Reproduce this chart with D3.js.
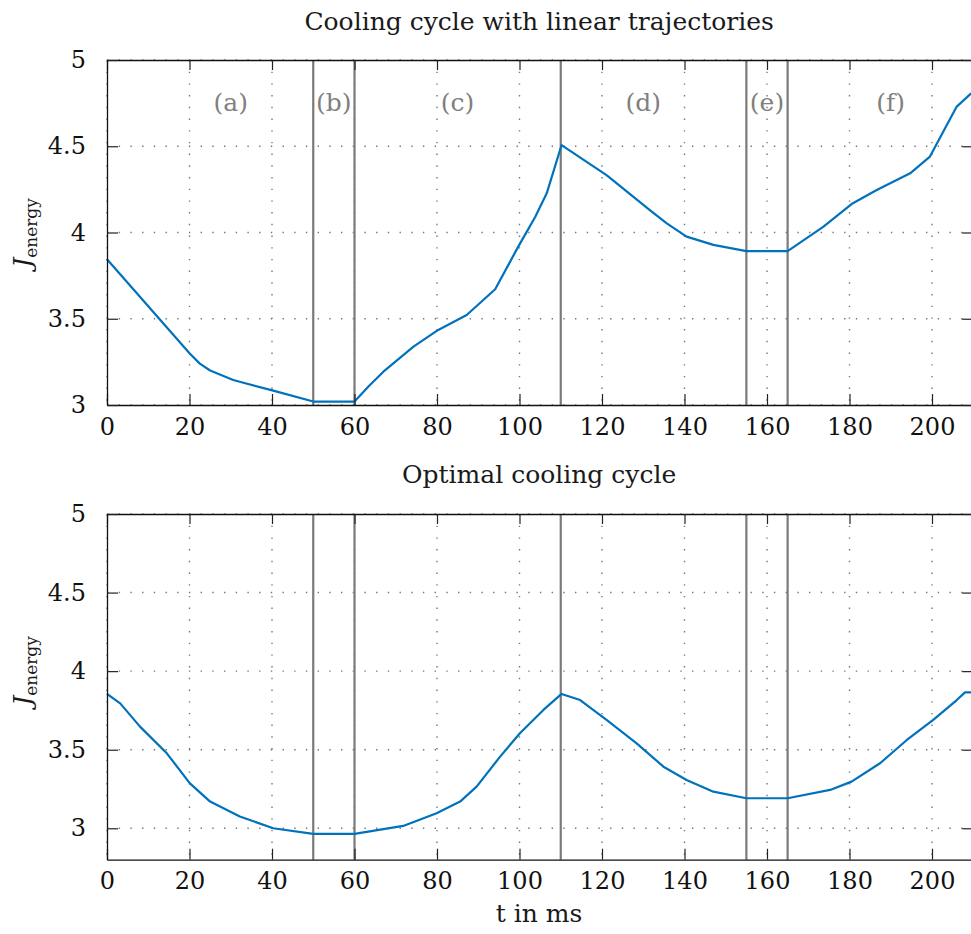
<!DOCTYPE html>
<html>
<head>
<meta charset="utf-8">
<script src="https://cdn.jsdelivr.net/npm/d3@7"></script>
<style>
  body { margin: 0; background: #fff; }
  svg { display: block; }
  svg text { font-family: "DejaVu Serif", "Liberation Serif", serif; fill: #1a1a1a; }
</style>
</head>
<body>
<svg width="971" height="934"></svg>
<script>
// phase boundaries (ms) and labels
var phaseBounds = [50, 60, 110, 155, 165];
var phaseLabels = ["(a)", "(b)", "(c)", "(d)", "(e)", "(f)"];
var phaseLabelT = [30, 55, 85, 130, 160, 190];

var xTicks = [0, 20, 40, 60, 80, 100, 120, 140, 160, 180, 200];
var yTicks = [3, 3.5, 4, 4.5, 5];

// linear trajectories
var linearT = [0, 20, 22.5, 25, 30.6, 40.3, 50, 60, 63.5, 67, 74.3, 80.3, 87.2, 94.1, 99.7, 103.8, 106.6, 110.2,
  121.1, 131.6, 135.7, 140.5, 147, 155, 165, 173.7, 180.5, 186.6, 194.7, 199.5, 206, 209.5];
var linearJ = [3.845, 3.30, 3.24, 3.20, 3.145, 3.083, 3.02, 3.02, 3.11, 3.193, 3.338, 3.435, 3.522, 3.671, 3.918, 4.09, 4.227, 4.507,
  4.333, 4.13, 4.053, 3.976, 3.928, 3.892, 3.892, 4.034, 4.165, 4.246, 4.343, 4.44, 4.73, 4.807];

// optimal cycle
var optimalT = [0, 3.2, 8, 14.5, 20.1, 25, 32.2, 40.3, 50, 60, 71.8, 79.9, 85.6, 89.6, 95.3, 100.1, 105.8, 110.2,
  114.7, 121.1, 128.4, 134.9, 140.5, 147, 155, 165, 175.3, 180.5, 187.4, 193.9, 200.3, 206, 208, 209.8];
var optimalJ = [3.855, 3.795, 3.647, 3.477, 3.286, 3.17, 3.075, 3.0, 2.964, 2.964, 3.015, 3.095, 3.17, 3.265, 3.456, 3.605, 3.753, 3.855,
  3.816, 3.69, 3.54, 3.392, 3.307, 3.233, 3.191, 3.191, 3.244, 3.297, 3.414, 3.562, 3.69, 3.816, 3.865, 3.865];

var svg = d3.select("svg");
var left = 107, right = 973.25;
var serif = "DejaVu Serif";

var x = d3.scaleLinear().domain([0, 210]).range([left, right]);

var panels = [
  { title: "Cooling cycle with linear trajectories", top: 60, bottom: 405, yMin: 3, t: linearT, j: linearJ,
    titleY: 30, labelY: 233, letters: true },
  { title: "Optimal cooling cycle", top: 514, bottom: 859.7, yMin: 2.8, t: optimalT, j: optimalJ,
    titleY: 483, labelY: 671, letters: false }
];

panels.forEach(function(p) {
  var y = d3.scaleLinear().domain([p.yMin, 5]).range([p.bottom, p.top]);
  var g = svg.append("g");

  g.append("text")
    .attr("x", (left + right) / 2 - 1)
    .attr("y", p.titleY)
    .attr("text-anchor", "middle")
    .attr("font-family", serif)
    .attr("font-size", 25)
    .text(p.title);

  // dotted grid
  g.append("g").selectAll("line").data(xTicks).join("line")
    .attr("x1", function(d) { return x(d); }).attr("x2", function(d) { return x(d); })
    .attr("y1", p.top).attr("y2", p.bottom)
    .attr("stroke", "#777").attr("stroke-width", 1.4)
    .attr("stroke-dasharray", "1.4,10.3");
  g.append("g").selectAll("line").data(yTicks).join("line")
    .attr("x1", left).attr("x2", right)
    .attr("y1", function(d) { return y(d); }).attr("y2", function(d) { return y(d); })
    .attr("stroke", "#777").attr("stroke-width", 1.4)
    .attr("stroke-dasharray", "1.4,10.3");

  // phase boundaries
  g.append("g").selectAll("line").data(phaseBounds).join("line")
    .attr("x1", function(d) { return x(d); }).attr("x2", function(d) { return x(d); })
    .attr("y1", p.top).attr("y2", p.bottom)
    .attr("stroke", "#7a7a7a").attr("stroke-width", 2.2);

  if (p.letters) {
    g.append("g").selectAll("text").data(phaseLabels).join("text")
      .attr("x", function(d, i) { return x(phaseLabelT[i]); })
      .attr("y", 111)
      .attr("text-anchor", "middle")
      .attr("font-family", serif)
      .attr("font-size", 25)
      .style("fill", "#808080")
      .text(function(d) { return d; });
  }

  // curve
  var line = d3.line()
    .x(function(d) { return x(d[0]); })
    .y(function(d) { return y(d[1]); });
  g.append("path")
    .datum(d3.zip(p.t, p.j))
    .attr("fill", "none")
    .attr("stroke", "#0072BD")
    .attr("stroke-width", 2.2)
    .attr("stroke-linejoin", "round")
    .attr("d", line);

  // axes
  var ax = g.append("g").attr("transform", "translate(0," + p.bottom + ")")
    .call(d3.axisBottom(x).tickValues(xTicks).tickSize(-11).tickSizeOuter(0).tickPadding(12)
      .tickFormat(function(d) { return String(d); }));
  var axTop = g.append("g").attr("transform", "translate(0," + p.top + ")")
    .call(d3.axisTop(x).tickValues(xTicks).tickSize(-10).tickSizeOuter(0).tickFormat(""));
  var ay = g.append("g").attr("transform", "translate(" + left + ",0)")
    .call(d3.axisLeft(y).tickValues(yTicks).tickSize(-11).tickSizeOuter(0).tickPadding(21)
      .tickFormat(function(d) { return String(d); }));
  var ayR = g.append("g").attr("transform", "translate(" + right + ",0)")
    .call(d3.axisRight(y).tickValues(yTicks).tickSize(-11).tickSizeOuter(0).tickFormat(""));

  [ax, axTop, ay, ayR].forEach(function(a) {
    a.attr("font-family", serif).attr("font-size", 24);
    a.select(".domain").attr("stroke", "#111").attr("stroke-width", 1.3);
    a.selectAll(".tick line").attr("stroke", "#222").attr("stroke-width", 1.2);
    a.selectAll(".tick text").attr("font-family", serif).attr("font-size", 24).style("fill", "#111");
  });
  ax.selectAll(".tick text").attr("dy", "0.74em");

  // y label
  var lab = g.append("text")
    .attr("transform", "translate(31," + p.labelY + ") rotate(-90)")
    .attr("text-anchor", "middle")
    .attr("font-family", serif);
  lab.append("tspan").attr("font-size", 25).attr("font-style", "italic").text("J");
  lab.append("tspan").attr("font-size", 17).attr("dy", 6).text("energy");
});

svg.append("text")
  .attr("x", (left + right) / 2 - 1)
  .attr("y", 922)
  .attr("text-anchor", "middle")
  .attr("font-family", serif)
  .attr("font-size", 25)
  .text("t in ms");
</script>
</body>
</html>
